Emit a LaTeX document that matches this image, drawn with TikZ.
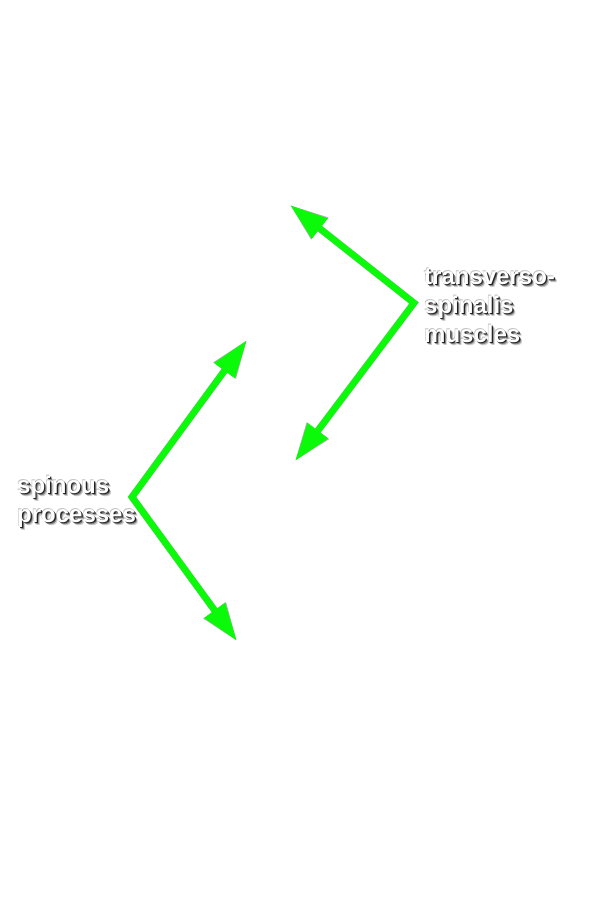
\documentclass[tikz,border=0pt]{standalone}
\usepackage{fontspec}
\setmainfont{Liberation Sans}
\usetikzlibrary{arrows.meta}
\definecolor{arrowgreen}{RGB}{10,250,10}
\tikzset{
  greenarrow/.style={draw=arrowgreen, line width=6.5pt, {Triangle[length=38pt,width=24pt]}-{Triangle[length=38pt,width=24pt]}},
  arrowshadow/.style={draw=black, opacity=0.3, line width=7pt, {Triangle[length=38pt,width=26pt]}-{Triangle[length=38pt,width=26pt]}},
  labeltext/.style={anchor=base west, inner sep=0pt, align=left, font=\fontsize{24}{28.8}\selectfont\bfseries},
}
\begin{document}
\begin{tikzpicture}[x=1pt,y=-1pt]
\useasboundingbox[fill=white] (0,0) rectangle (589,900);
% upper group
\coordinate (tA) at (290,205);
\coordinate (vA) at (414,303);
\coordinate (bA) at (295,461);
% lower group
\coordinate (tB) at (247,340);
\coordinate (vB) at (132,497);
\coordinate (bB) at (237,641);
% shadows
\begin{scope}[shift={(3,4)}]
\draw[arrowshadow] (tA) -- (vA) -- (bA);
\draw[arrowshadow] (tB) -- (vB) -- (bB);
\end{scope}
\draw[greenarrow] (tA) -- (vA) -- (bA);
\draw[greenarrow] (tB) -- (vB) -- (bB);
% labels (base anchor = last line's baseline)
\foreach \dx/\dy/\op in {3/3.5/0.2, 2/2.5/0.35, 1.2/1.5/0.75, -0.5/-0.5/0.25} {
  \node[labeltext, text=black, opacity=\op] at (424+\dx,342+\dy) {transverso-\\spinalis\\muscles};
  \node[labeltext, text=black, opacity=\op] at (17+\dx,522+\dy) {spinous\\processes};
}
\node[labeltext, text=white] (lblA) at (424,342) {transverso-\\spinalis\\muscles};
\node[labeltext, text=white] (lblB) at (17,522) {spinous\\processes};
\end{tikzpicture}
\end{document}
